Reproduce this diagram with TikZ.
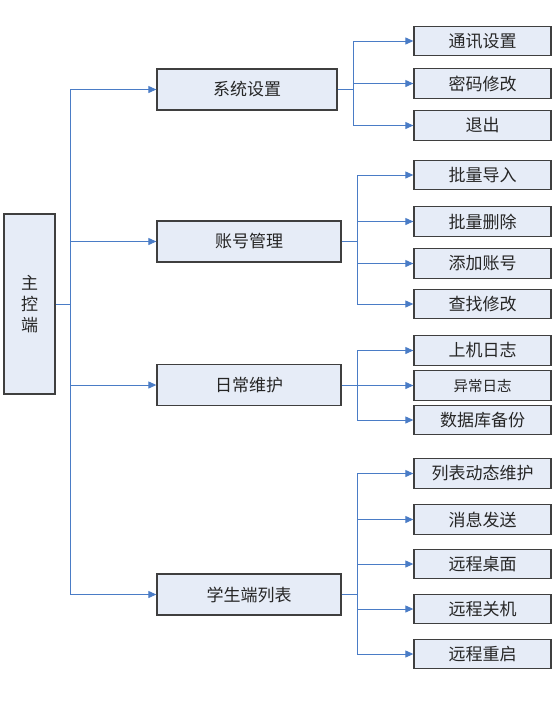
\documentclass[tikz,border=0pt]{standalone}
\usepackage{fontspec}
\setmainfont{Noto Sans CJK SC}
\usepackage{xcolor}
\usepackage{tikz}
\usetikzlibrary{arrows.meta}
\definecolor{boxfill}{HTML}{E6ECF7}
\definecolor{boxline}{HTML}{3F3F3F}
\definecolor{linkblue}{HTML}{4A7CC6}
\definecolor{inktext}{HTML}{262626}

\begin{document}
\begin{tikzpicture}[
  x=1pt,y=-1pt,
  box/.style={draw=boxline,fill=boxfill,line width=1.3pt,inner sep=0pt,text=inktext,
    font=\fontsize{17}{21}\selectfont},
  rootbox/.style={box,minimum width=51pt,minimum height=180pt,align=center},
  topic/.style={box,minimum width=184pt,minimum height=41pt},
  item/.style={box,minimum width=137pt,minimum height=29.5pt},
  flow/.style={-{Triangle[length=8pt,width=7pt]},draw=linkblue,line width=1pt},
  link/.style={draw=linkblue,line width=1pt}
]
\useasboundingbox (0,0) rectangle (557,720);

\node[rootbox] (main) at (29.5,304) {主\\控\\端};

\node[topic,minimum width=180pt] (sys) at (247,89.5) {系统设置};
\node[topic] (acct) at (249,241.5) {账号管理};
\node[topic] (daily) at (249,385) {日常维护};
\node[topic] (stud) at (249,594.5) {学生端列表};

\node[item] (comm) at (482.5,41) {通讯设置};
\node[item] (pwd) at (482.5,83.5) {密码修改};
\node[item] (quit) at (482.5,125.5) {退出};

\node[item] (imp) at (482.5,175) {批量导入};
\node[item] (del) at (482.5,221.5) {批量删除};
\node[item] (add) at (482.5,263.5) {添加账号};
\node[item] (find) at (482.5,304) {查找修改};

\node[item] (log) at (482.5,350.5) {上机日志};
\node[item,font=\fontsize{14.5}{17}\selectfont] (err) at (482.5,385.5) {异常日志};
\node[item] (bak) at (482.5,420) {数据库备份};

\node[item] (live) at (482.5,473.5) {列表动态维护};
\node[item] (msg) at (482.5,519.5) {消息发送};
\node[item] (desk) at (482.5,564) {远程桌面};
\node[item] (halt) at (482.5,609) {远程关机};
\node[item] (boot) at (482.5,654) {远程重启};

% trunk from the main box
\coordinate (trunk) at (70.7,304);
\draw[flow] (main.east) -- (trunk) |- (sys.west);
\draw[flow] (trunk) |- (acct.west);
\draw[flow] (trunk) |- (daily.west);
\draw[flow] (trunk) |- (stud.west);

% branches
\coordinate (sysfork) at (353,89.5);
\draw[link] (sys.east) -- (sysfork);
\draw[flow] (sysfork) |- (comm.west);
\draw[flow] (sysfork) |- (pwd.west);
\draw[flow] (sysfork) |- (quit.west);

\coordinate (acctfork) at (357,241.5);
\draw[link] (acct.east) -- (acctfork);
\draw[flow] (acctfork) |- (imp.west);
\draw[flow] (acctfork) |- (del.west);
\draw[flow] (acctfork) |- (add.west);
\draw[flow] (acctfork) |- (find.west);

\coordinate (dailyfork) at (357,385);
\draw[link] (daily.east) -- (dailyfork);
\draw[flow] (dailyfork) |- (log.west);
\draw[flow] (dailyfork) |- (err.west);
\draw[flow] (dailyfork) |- (bak.west);

\coordinate (studfork) at (357,594.5);
\draw[link] (stud.east) -- (studfork);
\draw[flow] (studfork) |- (live.west);
\draw[flow] (studfork) |- (msg.west);
\draw[flow] (studfork) |- (desk.west);
\draw[flow] (studfork) |- (halt.west);
\draw[flow] (studfork) |- (boot.west);
\end{tikzpicture}
\end{document}
